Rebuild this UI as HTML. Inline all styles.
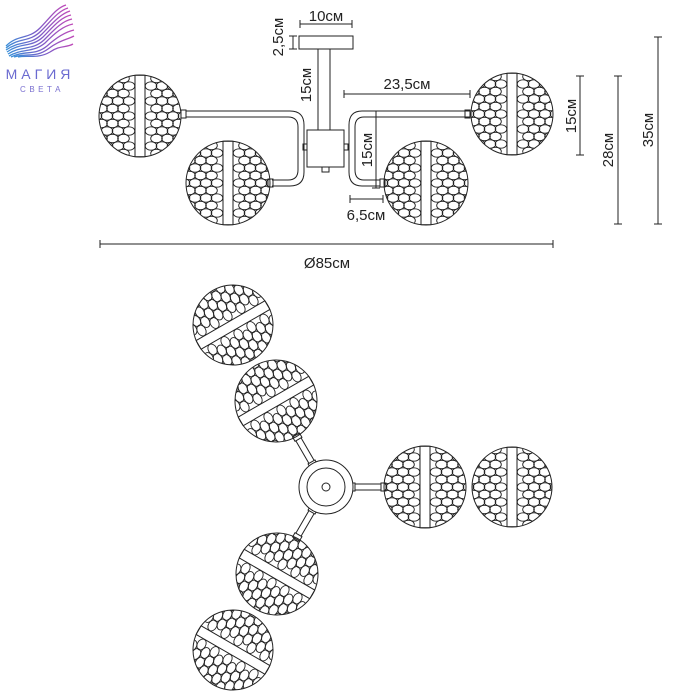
<!DOCTYPE html>
<html><head><meta charset="utf-8"><style>
html,body{margin:0;padding:0;background:#fff;width:700px;height:700px;overflow:hidden}
svg text{font-family:"Liberation Sans","DejaVu Sans",sans-serif;fill:#222}
</style></head><body>
<svg id="s" width="700" height="700" viewBox="0 0 700 700" xmlns="http://www.w3.org/2000/svg">
<defs>
<linearGradient id="lg" x1="0" x2="1" y1="0" y2="0"><stop offset="0" stop-color="#3a8fd8"/><stop offset="0.5" stop-color="#7a5cc8"/><stop offset="1" stop-color="#c04ab8"/></linearGradient>
</defs>
<g id="logo" fill="none" stroke="url(#lg)" stroke-width="1.3">
<path d="M6 46 C18 34 28 40 40 28 C50 18 56 8 66 5"/>
<path d="M6 48 C19 37 29 43 41 31 C51 21 58 11 68 8"/>
<path d="M6 50 C20 40 30 46 42 34 C52 24 60 14 70 11"/>
<path d="M7 52 C21 42 31 48 43 37 C53 27 61 17 71 15"/>
<path d="M8 54 C22 45 32 51 44 40 C54 30 62 21 72 19"/>
<path d="M9 56 C23 48 33 53 45 43 C55 33 63 26 73 24"/>
<path d="M11 57 C25 50 35 56 47 46 C57 37 65 32 74 30"/>
<path d="M14 57 C26 53 36 58 48 49 C58 41 66 40 74 36"/>
<path d="M18 57 C28 55 38 59 50 52 C60 45 66 48 73 44"/>
</g>
<text x="40" y="79" font-size="14" text-anchor="middle" letter-spacing="4" style="fill:#6a6ad0">МАГИЯ</text>
<text x="42" y="92" font-size="8" text-anchor="middle" letter-spacing="3.5" style="fill:#7a70d0">СВЕТА</text>

<g id="draw" stroke="#222" stroke-width="1" fill="none"></g>
<g font-size="15">
<text x="326" y="21" text-anchor="middle">10см</text>
<text transform="translate(283,37) rotate(-90)" text-anchor="middle">2,5см</text>
<text transform="translate(311,85) rotate(-90)" text-anchor="middle">15см</text>
<text x="407" y="89" text-anchor="middle">23,5см</text>
<text transform="translate(372,150) rotate(-90)" text-anchor="middle">15см</text>
<text x="366" y="220" text-anchor="middle">6,5см</text>
<text transform="translate(576,116) rotate(-90)" text-anchor="middle">15см</text>
<text transform="translate(613,150) rotate(-90)" text-anchor="middle">28см</text>
<text transform="translate(653,130) rotate(-90)" text-anchor="middle">35см</text>
<text x="327" y="268" text-anchor="middle">Ø85см</text>
</g>
</svg>
<script>
const NS="http://www.w3.org/2000/svg",D=document.getElementById('draw');
function el(t,a,p){const e=document.createElementNS(NS,t);for(const k in a)e.setAttribute(k,a[k]);(p||D).appendChild(e);return e}
let cid=0;
function globe(cx,cy,r,ang){
 const g=el('g',{transform:`translate(${cx},${cy}) rotate(${ang})`});
 const id='c'+(cid++);
 const cp=el('clipPath',{id},g);el('circle',{cx:0,cy:0,r:r-0.5},cp);
 const pg=el('g',{'clip-path':`url(#${id})`,'stroke-width':0.9},g);
 for(let row=-6;row<=6;row++){
  const y=row*7.5;
  for(let col=-4;col<=4;col++){
   const x=col*11+(row%2?5.5:0);
   if(Math.abs(x)<8)continue;
   el('ellipse',{cx:x,cy:y,rx:5.8,ry:4.2},pg);
  }
 }
 el('circle',{cx:0,cy:0,r:r},g);
 const w=5;
 el('rect',{x:-w,y:-Math.sqrt(r*r-w*w),width:2*w,height:2*Math.sqrt(r*r-w*w),fill:'#fff'},g);
}
function L(x1,y1,x2,y2){el('line',{x1,y1,x2,y2})}
function P(d,f){el('path',{d,fill:f||'none'})}
el('rect',{x:299,y:36,width:54,height:13});
el('rect',{x:318,y:49,width:12,height:81});
el('rect',{x:307,y:130,width:37,height:37,fill:'#fff'});
el('rect',{x:322,y:167,width:7,height:5});
el('rect',{x:303,y:144,width:4,height:6});el('rect',{x:344,y:144,width:4,height:6});
P('M186 111 L290 111 Q304 111 304 125 L304 172 Q304 186 290 186 L272 186');
P('M186 117 L288 117 Q298 117 298 127 L298 170 Q298 180 288 180 L272 180');
el('rect',{x:181,y:110,width:5,height:8});el('rect',{x:268,y:179,width:5,height:8});
P('M470 111 L362 111 Q349 111 349 125 L349 172 Q349 186 362 186 L380 186');
P('M470 117 L364 117 Q355 117 355 127 L355 170 Q355 180 364 180 L380 180');
el('rect',{x:465,y:110,width:5,height:8});el('rect',{x:380,y:179,width:5,height:8});
globe(140,116,41,0);globe(228,183,42,0);globe(512,114,41,0);globe(426,183,42,0);
const dims=[[300,24,352,24,'h'],[293,36,293,49,'v'],[344,94,470,94,'h'],[376,111,376,188,'v'],[350,199,383,199,'h'],[580,76,580,155,'v'],[618,76,618,224,'v'],[658,37,658,224,'v'],[100,244,553,244,'h']];
for(const [a,b,c,d,o] of dims){L(a,b,c,d);if(o=='h'){L(a,b-4,a,b+4);L(c,d-4,c,d+4)}else{L(a-4,b,a+4,b);L(c-4,d,c+4,d)}}
const hx=326,hy=487;
function arm(ang,len){const g=el('g',{transform:`translate(${hx},${hy}) rotate(${ang})`});
 el('rect',{x:27,y:-3,width:len,height:6,fill:'#fff'},g);el('rect',{x:24,y:-4,width:5,height:8,fill:'#fff'},g);el('rect',{x:25+len,y:-4,width:5,height:8,fill:'#fff'},g);}
arm(0,30);arm(-120,30);arm(120,30);
el('circle',{cx:hx,cy:hy,r:27,fill:'#fff'});el('circle',{cx:hx,cy:hy,r:19});el('circle',{cx:hx,cy:hy,r:4});
globe(425,487,41,0);globe(512,487,40,0);
globe(276,401,41,-120);globe(233,325,40,-120);
globe(277,574,41,120);globe(233,650,40,120);
</script>
</body></html>
